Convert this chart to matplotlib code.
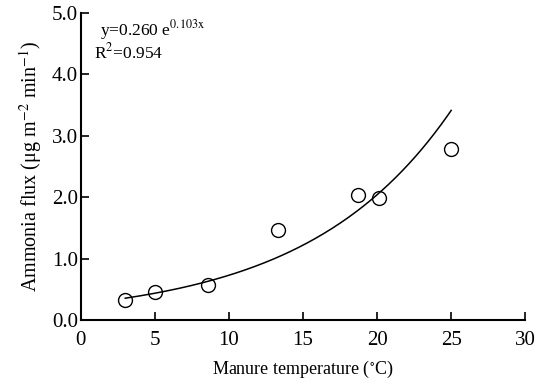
import matplotlib as mpl
mpl.use('Agg')
import matplotlib.pyplot as plt
import numpy as np

temperature = [3.0, 5.0, 8.6, 13.3, 18.7, 20.1, 25.0]
flux = [0.33, 0.45, 0.57, 1.47, 2.03, 1.98, 2.78]

# Exponential fit reported on the chart
fit_a = 0.260
fit_b = 0.103
fit_range = [3.0, 25.0]

plt.rcParams['font.family'] = ['Liberation Serif', 'DejaVu Serif']
plt.rcParams['mathtext.fontset'] = 'stix'

fig = plt.figure(figsize=(5.46, 3.85), dpi=100)
ax = fig.add_axes([0.148, 0.169, 0.814, 0.797])

xs = np.linspace(fit_range[0], fit_range[1], 200)
ax.plot(xs, fit_a * np.exp(fit_b * xs), color='black', lw=1.1)
ax.plot(temperature, flux, 'o', mfc='none', mec='black', ms=10, mew=1.0)

ax.set_xlim(0, 30)
ax.set_ylim(0, 5)
ax.set_xticks(range(0, 31, 5))
ax.set_yticks(np.arange(0, 5.01, 1.0))
ax.set_yticklabels(['%.1f' % v for v in np.arange(0, 5.01, 1.0)])
ax.spines['top'].set_visible(False)
ax.spines['right'].set_visible(False)
ax.spines['left'].set_linewidth(1.5)
ax.spines['bottom'].set_linewidth(1.5)
ax.tick_params(direction='in', length=6, width=1.2, labelsize=15)
ax.tick_params(axis='x', pad=8)
ax.tick_params(axis='y', pad=2)

ax.set_xlabel('Manure temperature ($^{\\circ}$C)', fontsize=13, labelpad=6)
ax.set_ylabel('Ammonia flux (μg m$^{-2}$ min$^{-1}$)', fontsize=14.5, labelpad=6)

ax.text(1.3, 4.64, 'y=0.260 e$^{\\mathrm{0.103x}}$', fontsize=12.5)
ax.text(0.9, 4.26, 'R$^{2}$=0.954', fontsize=12.5)

plt.savefig('out.png', dpi=100)
